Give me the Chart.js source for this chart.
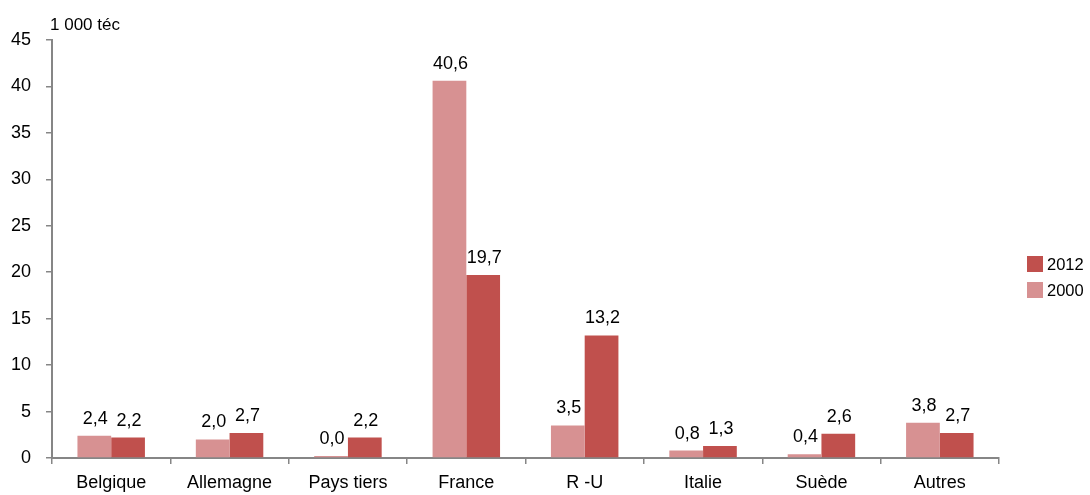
<!DOCTYPE html>
<html lang="fr">
<head>
<meta charset="utf-8">
<title>Exportations par destination</title>
<script src="https://cdn.jsdelivr.net/npm/chart.js@4.4.1/dist/chart.umd.min.js"></script>
<style>
  html, body { margin: 0; padding: 0; background: #ffffff; }
  #wrap { width: 1090px; height: 495px; position: relative; }
</style>
</head>
<body>
<div id="wrap"><canvas id="chart" width="1090" height="495"></canvas></div>
<script>
// Destinations and volumes (milliers de téc)
const categories = ['Belgique', 'Allemagne', 'Pays tiers', 'France', 'R -U', 'Italie', 'Suède', 'Autres'];
const values2000 = [2.4, 2.0, 0.0, 40.6, 3.5, 0.8, 0.4, 3.8];
const values2012 = [2.2, 2.7, 2.2, 19.7, 13.2, 1.3, 2.6, 2.7];
const seriesLabels = ['2000', '2012'];
const yTicks = [0, 5, 10, 15, 20, 25, 30, 35, 40, 45];
const unitLabel = '1 000 téc';

const FONT = "'Liberation Sans', Arial, sans-serif";
const AXIS_GREY = '#868686';
const COLOR_2000 = '#D79192';
const COLOR_2012 = '#C0504D';

const fmt = v => v.toFixed(1).replace('.', ',');

// Value labels above every bar
const barLabels = {
  id: 'barLabels',
  afterDatasetsDraw(chart) {
    const ctx = chart.ctx;
    ctx.save();
    ctx.font = '18px ' + FONT;
    ctx.fillStyle = '#000000';
    ctx.textAlign = 'center';
    ctx.textBaseline = 'alphabetic';
    chart.data.datasets.forEach((ds, di) => {
      chart.getDatasetMeta(di).data.forEach((bar, i) => {
        ctx.fillText(fmt(ds.data[i]), bar.x + 1, bar.y - 12);
      });
    });
    ctx.restore();
  }
};

// Unit caption above the value axis
const unitCaption = {
  id: 'unitCaption',
  afterDraw(chart) {
    const ctx = chart.ctx;
    const y = chart.scales.y;
    ctx.save();
    ctx.font = '17px ' + FONT;
    ctx.fillStyle = '#000000';
    ctx.textAlign = 'left';
    ctx.textBaseline = 'middle';
    ctx.fillText(unitLabel, y.right - 2, chart.chartArea.top - 15);
    ctx.restore();
  }
};

// Legend on the right: 2012 above 2000
const sideLegend = {
  id: 'sideLegend',
  afterDraw(chart) {
    const ctx = chart.ctx;
    const x = chart.chartArea.right + 28;
    const order = [1, 0];
    ctx.save();
    ctx.font = '16.5px ' + FONT;
    ctx.textAlign = 'left';
    ctx.textBaseline = 'middle';
    order.forEach((di, k) => {
      const ds = chart.data.datasets[di];
      const cy = 264 + k * 26;
      ctx.fillStyle = ds.backgroundColor;
      ctx.fillRect(x, cy - 8, 16, 16);
      ctx.fillStyle = '#000000';
      ctx.fillText(ds.label, x + 20, cy + 1);
    });
    ctx.restore();
  }
};

new Chart(document.getElementById('chart'), {
  type: 'bar',
  data: {
    labels: categories,
    datasets: [
      {
        label: seriesLabels[0],
        data: values2000,
        backgroundColor: COLOR_2000,
        borderWidth: 0,
        minBarLength: 2
      },
      {
        label: seriesLabels[1],
        data: values2012,
        backgroundColor: COLOR_2012,
        borderWidth: 0
      }
    ]
  },
  options: {
    responsive: false,
    animation: false,
    devicePixelRatio: 1,
    layout: { padding: { top: 40, right: 91, bottom: 0, left: 0 } },
    datasets: { bar: { categoryPercentage: 0.57, barPercentage: 1.0 } },
    plugins: {
      legend: { display: false },
      tooltip: { enabled: false }
    },
    scales: {
      x: {
        offset: true,
        grid: {
          offset: true,
          drawOnChartArea: false,
          drawTicks: true,
          tickLength: 6,
          color: AXIS_GREY,
          lineWidth: 1.5
        },
        border: { color: AXIS_GREY, width: 2 },
        ticks: {
          color: '#000000',
          font: { family: FONT, size: 18 },
          padding: 8,
          maxRotation: 0,
          autoSkip: false
        },
        afterFit(scale) { scale.height = 37; }
      },
      y: {
        min: 0,
        max: 45,
        afterBuildTicks(scale) { scale.ticks = yTicks.map(v => ({ value: v })); },
        grid: {
          drawOnChartArea: false,
          drawTicks: true,
          tickLength: 6,
          color: AXIS_GREY,
          lineWidth: 1.5
        },
        border: { color: AXIS_GREY, width: 2 },
        ticks: {
          color: '#000000',
          font: { family: FONT, size: 18 },
          padding: 15
        },
        afterFit(scale) { scale.width = 52; }
      }
    }
  },
  plugins: [barLabels, unitCaption, sideLegend]
});
</script>
</body>
</html>
